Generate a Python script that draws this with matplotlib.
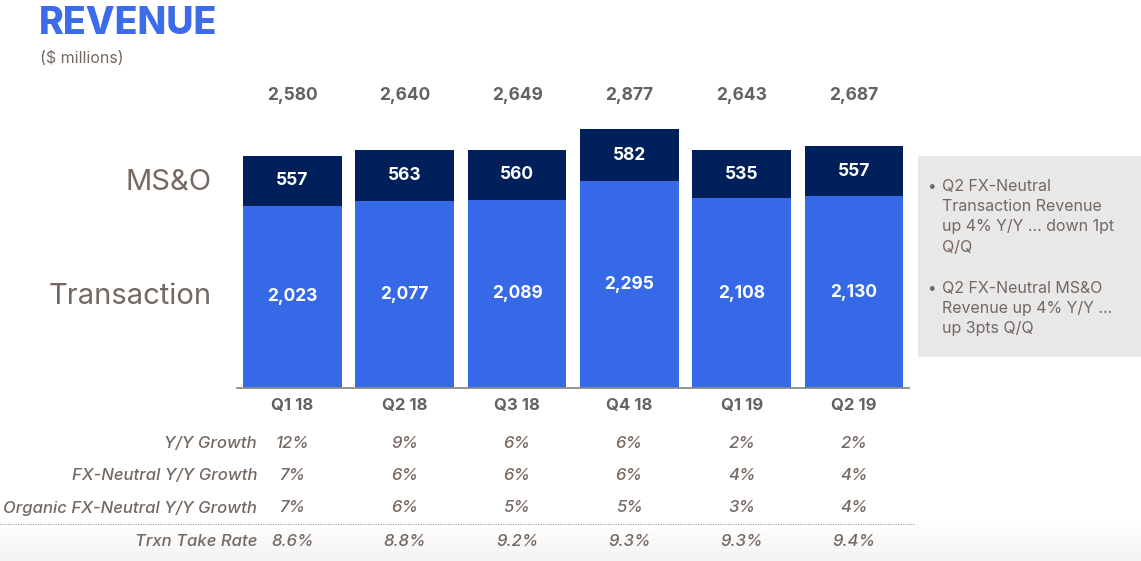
import numpy as np
import matplotlib.pyplot as plt
from matplotlib.patches import Rectangle
from matplotlib.lines import Line2D
from matplotlib.transforms import blended_transform_factory

quarters = ['Q1 18', 'Q2 18', 'Q3 18', 'Q4 18', 'Q1 19', 'Q2 19']
transaction = [2023, 2077, 2089, 2295, 2108, 2130]
mso = [557, 563, 560, 582, 535, 557]
totals = [2580, 2640, 2649, 2877, 2643, 2687]

row_labels = ['Y/Y Growth', 'FX-Neutral Y/Y Growth', 'Organic FX-Neutral Y/Y Growth', 'Trxn Take Rate']
yy_growth = ['12%', '9%', '6%', '6%', '2%', '2%']
fxn_growth = ['7%', '6%', '6%', '6%', '4%', '4%']
org_growth = ['7%', '6%', '5%', '5%', '3%', '4%']
take_rate = ['8.6%', '8.8%', '9.2%', '9.3%', '9.3%', '9.4%']

notes = [['Q2 FX-Neutral', 'Transaction Revenue', 'up 4% Y/Y ... down 1pt', 'Q/Q'],
         ['Q2 FX-Neutral MS&O', 'Revenue up 4% Y/Y ...', 'up 3pts Q/Q']]

BLUE = '#3569E7'
NAVY = '#00205B'
TXT = '#756860'
GRAY = '#626262'

plt.rcParams['font.family'] = ['Inter', 'DejaVu Sans']

W, H = 1141, 561
fig = plt.figure(figsize=(W / 100, H / 100), dpi=100)

def fx(px):
    return px / W

def fy(py):
    return 1 - py / H

# faint gradient at the bottom
grad = np.linspace(1.0, 0.955, 50).reshape(-1, 1)
bg = fig.add_axes([0, 0, 1, fy(524)], zorder=-5)
bg.imshow(np.dstack([grad, grad, grad]), aspect='auto', extent=[0, 1, 0, 1])
bg.axis('off')

# bars: axis from px 237 to 909, baseline at px 388, 0.09 px per $m
ax = fig.add_axes([fx(237), fy(388), fx(672), (388 - 80) / H])
x = np.arange(len(quarters))
ax.bar(x, transaction, width=0.88, color=BLUE)
ax.bar(x, mso, bottom=transaction, width=0.88, color=NAVY)
ax.set_xlim(-0.494, 5.49)
ax.set_ylim(0, 308 / 0.09)
for s in ['top', 'right', 'left']:
    ax.spines[s].set_visible(False)
ax.spines['bottom'].set_color('#8a8a8a')
ax.spines['bottom'].set_linewidth(1.3)
ax.set_yticks([])
ax.set_xticks(x)
ax.set_xticklabels(quarters, fontsize=12, fontweight='bold', color=GRAY)
ax.tick_params(axis='x', length=0, pad=7)

for i in range(len(quarters)):
    ax.text(i, transaction[i] / 2, f'{transaction[i]:,}', ha='center', va='center',
            color='white', fontsize=12.5, fontweight='bold')
    ax.text(i, transaction[i] + mso[i] / 2, f'{mso[i]:,}', ha='center', va='center',
            color='white', fontsize=12.5, fontweight='bold')

tr = blended_transform_factory(ax.transData, fig.transFigure)
for i, t in enumerate(totals):
    ax.text(i, fy(96), f'{t:,}', transform=tr, ha='center', va='center',
            color=GRAY, fontsize=12.5, fontweight='bold', clip_on=False)

# title
fig.text(fx(39), fy(24), 'REVENUE', color='#3D6CEA', fontsize=27, fontweight='heavy', va='center')
fig.text(fx(40), fy(58), '($ millions)', color=TXT, fontsize=11.5, va='center')

fig.text(fx(212), fy(182), 'MS&O', color=TXT, fontsize=21, ha='right', va='center')
fig.text(fx(212), fy(296), 'Transaction', color=TXT, fontsize=21, ha='right', va='center')

# growth table
rows = [yy_growth, fxn_growth, org_growth, take_rate]
row_y = [443, 476, 508, 541]
for lab, vals, py in zip(row_labels, rows, row_y):
    fig.text(fx(257), fy(py), lab, color=TXT, fontsize=12, style='italic',
             fontweight='medium', ha='right', va='center')
    for i, v in enumerate(vals):
        ax.text(i, fy(py), v, transform=tr, ha='center', va='center', color=TXT,
                fontsize=12, style='italic', fontweight='medium', clip_on=False)

fig.add_artist(Line2D([0, fx(914)], [fy(524), fy(524)], color='#aaaaaa', lw=0.9,
                      linestyle=(0, (1, 1))))

# notes box
fig.add_artist(Rectangle((fx(918), fy(357)), fx(1141 - 918), (357 - 156) / H,
                         facecolor='#E8E8E8', edgecolor='none', zorder=0))
line_y = 187
for block in notes:
    fig.text(fx(927), fy(line_y), '•', color=TXT, fontsize=11, va='center')
    for ln in block:
        fig.text(fx(942), fy(line_y), ln, color=TXT, fontsize=11.5, va='center')
        line_y += 20
    line_y += 21

fig.savefig('out.png', dpi=100)
